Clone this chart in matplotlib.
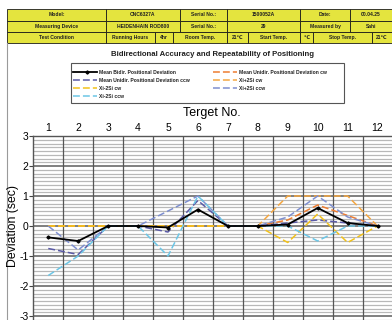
import matplotlib
matplotlib.use("Agg")
import matplotlib.pyplot as plt
from matplotlib.patches import Rectangle
from matplotlib.lines import Line2D
from matplotlib.ticker import MultipleLocator

plt.rcParams['font.family'] = ['Liberation Sans', 'DejaVu Sans']

W, H = 392, 320

# ---- data -------------------------------------------------------------
targets = list(range(1, 13))
mean_bidir = [-0.38, -0.5, 0, 0, -0.05, 0.55, 0, 0, 0.05, 0.6, 0.1, 0]
mean_uni_cw = [0, 0, 0, 0, 0, 0, 0, 0, 0.2, 0.7, 0.35, 0]
mean_uni_ccw = [-0.75, -0.95, 0, 0, -0.2, 0.85, 0, 0, 0.1, 0.2, 0.1, 0]
plus_2s_cw = [0, 0, 0, 0, 0, 0, 0, 0, 1.0, 1.0, 1.0, 0]
minus_2s_cw = [0, 0, 0, 0, 0, 0, 0, 0, -0.55, 0.4, -0.55, 0]
plus_2s_ccw = [0, -0.8, 0, 0, 0.5, 1.0, 0, 0, 0.3, 1.0, 0.3, 0]
minus_2s_ccw = [-1.65, -1.0, 0, 0, -1.0, 1.0, 0, 0, 0.0, -0.5, 0.0, 0]

series_labels = [
    "Mean Bidir. Positional Deviation",
    "Mean Unidir. Positional Deviation cw",
    "Mean Unidir. Positional Deviation ccw",
    "Xi+2Si cw",
    "Xi-2Si cw",
    "Xi+2Si ccw",
    "Xi-2Si ccw",
]

header_rows = [
    ["Model:", "CNC6327A", "Serial No.:", "1500052A", "Date:", "00.04.25"],
    ["Measuring Device", "HEIDENHAIN ROD800", "Serial No.:", "29", "Measured by", "Sahi"],
    ["Test Condition", "Running Hours", "4hr", "Room Temp.", "21\u2103", "Start Temp.",
     "\u2103", "Stop Temp.", "21\u2103"],
]

title = "Bidirectional Accuracy and Repeatability of Positioning"
x_title = "Terget No."
y_title = "Deviation (sec)"

# ---- figure -----------------------------------------------------------
fig = plt.figure(figsize=(W / 100, H / 100), dpi=100)
fig.patch.set_facecolor("white")


def fx(px):
    return px / W


def fy(py):
    return 1 - py / H


# page frame on the left
fig.add_artist(Line2D([fx(7), fx(7)], [fy(43), fy(322)], color="#9a9a9a", lw=0.8))

# header table
col_edges = [
    [7, 106, 180, 227, 300, 350, 400],
    [7, 106, 180, 227, 300, 350, 400],
    [7, 106, 155, 173, 227, 248, 300, 313, 372, 400],
]
row_edges = [9, 20.5, 31.8, 43]
for r, cells in enumerate(header_rows):
    edges = col_edges[r]
    y0, y1 = row_edges[r], row_edges[r + 1]
    for c, txt in enumerate(cells):
        x0, x1 = edges[c], edges[c + 1]
        fig.add_artist(Rectangle((fx(x0), fy(y1)), fx(x1 - x0), (y1 - y0) / H,
                                 facecolor="#e4e43e", edgecolor="#1a1a1a", lw=0.6))
        cx = (x0 + min(x1, W)) / 2
        fig.text(fx(cx), fy((y0 + y1) / 2), txt, ha="center", va="center",
                 fontsize=3.6, fontweight="bold", color="#202020")

fig.text(fx(212), fy(54), title, ha="center", va="center", fontsize=5.6,
         fontweight="bold", color="#202020")

# ---- plot -------------------------------------------------------------
ax_left, ax_right, ax_top, ax_bot = 33.3, 392.5, 136, 320
ax = fig.add_axes([fx(ax_left), fy(ax_bot), fx(ax_right - ax_left), (ax_bot - ax_top) / H])
ax.set_xlim(0.5, 12.5)
ax.set_ylim(3 - (ax_bot - ax_top) / 30.0, 3)

colors = ["#000000", "#ED7D31", "#5A5AA6", "#F4A742", "#F2C21B", "#7E8FD0", "#6CC6E6"]
all_series = [mean_bidir, mean_uni_cw, mean_uni_ccw, plus_2s_cw, minus_2s_cw,
              plus_2s_ccw, minus_2s_ccw]
styles = []
for i, (vals, col) in enumerate(zip(all_series, colors)):
    if i == 0:
        st = dict(color=col, lw=1.3, marker="D", ms=1.6)
        ax.plot(targets, vals, zorder=5, **st)
    else:
        st = dict(color=col, lw=1.1, ls=(0, (4.5, 2)))
        ax.plot(targets, vals, zorder=4 + i * 0.01, **st)
    styles.append(st)

# grid
ax.yaxis.set_major_locator(MultipleLocator(1))
ax.yaxis.set_minor_locator(MultipleLocator(0.125))
ax.grid(which="minor", axis="y", color="#b8b8b8", lw=0.9)
ax.grid(which="major", axis="y", color="#6a6a6a", lw=1.2)
for b in range(1, 12):
    ax.axvline(b + 0.5, color="#555555", lw=0.9, zorder=1)
ax.set_axisbelow(True)

ax.xaxis.tick_top()
ax.set_xticks(targets)
ax.set_xticklabels([str(t) for t in targets], fontsize=7.5)
ax.tick_params(axis="x", length=0, pad=2)
ax.tick_params(axis="y", which="major", length=3, labelsize=7.5, pad=0.5, color="#444444")
ax.tick_params(axis="y", which="minor", length=0)
ax.set_yticks([3, 2, 1, 0, -1, -2, -3])
ax.set_yticklabels(["3", "2", "1", "0", "-1", "-2", "-3"])
for s in ["right", "bottom"]:
    ax.spines[s].set_visible(False)
for s in ["left", "top"]:
    ax.spines[s].set_color("#555555")
    ax.spines[s].set_linewidth(1.0)

fig.text(fx(212), fy(113), x_title, ha="center", va="center", fontsize=9)
fig.text(fx(13.5), fy(226), y_title, ha="center", va="center", fontsize=8.8, rotation=90)

# legend box, two columns of entries
fig.add_artist(Rectangle((fx(71), fy(103)), fx(344 - 71), 40 / H, facecolor="white",
                         edgecolor="#555555", lw=0.8))
legend_slots = [(0, 0, 0), (2, 0, 1), (4, 0, 2), (6, 0, 3),
                (1, 1, 0), (3, 1, 1), (5, 1, 2)]
col_x = [73, 213]
row_y = [72, 80, 88, 96]
for idx, c, r in legend_slots:
    st = dict(styles[idx])
    x0 = col_x[c]
    yy = fy(row_y[r])
    mk = st.pop("marker", None)
    ms = st.pop("ms", None)
    fig.add_artist(Line2D([fx(x0), fx(x0 + 24)], [yy, yy], **st))
    if mk:
        fig.add_artist(Line2D([fx(x0 + 14)], [yy], marker=mk, ms=ms, color=st["color"]))
    fig.text(fx(x0 + 26), yy, series_labels[idx], ha="left", va="center",
             fontsize=3.6, fontweight="bold", color="#202020")

fig.savefig("out.png", dpi=100)
